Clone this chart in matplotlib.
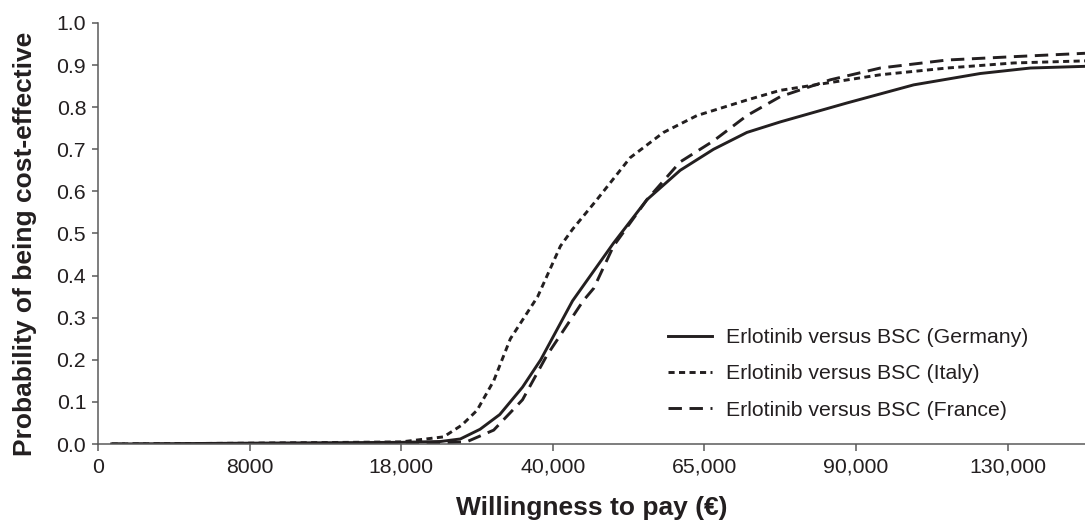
import matplotlib
matplotlib.use('Agg')
import matplotlib.pyplot as plt

plt.rcParams['font.family'] = ['Liberation Sans', 'DejaVu Sans']

# x positions are in tick-slot units (the axis ticks are evenly spaced but not linear in euros)
tick_labels = ['0', '8000', '18,000', '40,000', '65,000', '90,000', '130,000']

germany_x = [0.09, 1.0, 2.0, 2.26, 2.39, 2.52, 2.65, 2.80, 2.92, 3.13, 3.40, 3.62, 3.84, 4.06,
             4.28, 4.50, 4.94, 5.38, 5.82, 6.15, 6.51]
germany_y = [0.0, 0.002, 0.004, 0.006, 0.012, 0.035, 0.07, 0.135, 0.20, 0.34, 0.477, 0.58, 0.65,
             0.70, 0.74, 0.765, 0.81, 0.853, 0.88, 0.893, 0.897]

italy_x = [0.09, 1.0, 2.0, 2.28, 2.40, 2.50, 2.61, 2.72, 2.90, 3.05, 3.13, 3.29, 3.51, 3.73,
           3.95, 4.28, 4.50, 5.16, 5.60, 6.04, 6.51]
italy_y = [0.0, 0.002, 0.005, 0.017, 0.045, 0.08, 0.15, 0.25, 0.35, 0.47, 0.51, 0.58, 0.68,
           0.74, 0.78, 0.817, 0.84, 0.877, 0.893, 0.905, 0.91]

france_x = [0.09, 1.0, 2.0, 2.43, 2.61, 2.80, 2.96, 3.20, 3.27, 3.40, 3.62, 3.84, 4.06, 4.28,
            4.50, 4.83, 5.16, 5.60, 6.04, 6.51]
france_y = [0.0, 0.0, 0.0, 0.005, 0.033, 0.105, 0.21, 0.34, 0.37, 0.47, 0.58, 0.67, 0.72, 0.78,
            0.825, 0.865, 0.893, 0.912, 0.92, 0.928]

ink = '#231f20'
axis_grey = '#5a5a5a'

fig = plt.figure(figsize=(10.85, 5.22), dpi=100)
ax = fig.add_axes([0.0903, 0.1494, 0.9097, 0.8066])

ax.plot(germany_x, germany_y, color=ink, lw=2.1, label='Erlotinib versus BSC (Germany)')
ax.plot(italy_x, italy_y, color=ink, lw=2.1, dashes=(2.1, 1.5), label='Erlotinib versus BSC (Italy)')
ax.plot(france_x, france_y, color=ink, lw=2.1, dashes=(4.6, 2.6), label='Erlotinib versus BSC (France)')

ax.set_xlim(0, 6.51)
ax.set_ylim(0, 1.0)
ax.set_xticks(range(len(tick_labels)))
ax.set_xticklabels(tick_labels)
ax.set_yticks([i / 10 for i in range(11)])
ax.set_yticklabels([f'{i / 10:.1f}' for i in range(11)])

for side in ['top', 'right']:
    ax.spines[side].set_visible(False)
for side in ['left', 'bottom']:
    ax.spines[side].set_color(axis_grey)
    ax.spines[side].set_linewidth(1.1)

ax.tick_params(axis='both', colors=axis_grey, labelcolor=ink, labelsize=15.3, width=1.1)
ax.tick_params(axis='x', length=5, pad=5)
ax.tick_params(axis='y', length=4.5, pad=4)

ax.set_xlabel('Willingness to pay (€)', fontsize=19, fontweight='bold', color=ink, labelpad=14)
ax.set_ylabel('Probability of being cost-effective', fontsize=19, fontweight='bold', color=ink)
ax.yaxis.set_label_coords(-0.062, 0.476)

ax.legend(loc='lower left', bbox_to_anchor=(0.558, 0.012), frameon=False, fontsize=15.3,
          handlelength=2.07, handletextpad=0.66, labelspacing=0.82, labelcolor=ink)

plt.savefig('out.png', dpi=100)
plt.close()
